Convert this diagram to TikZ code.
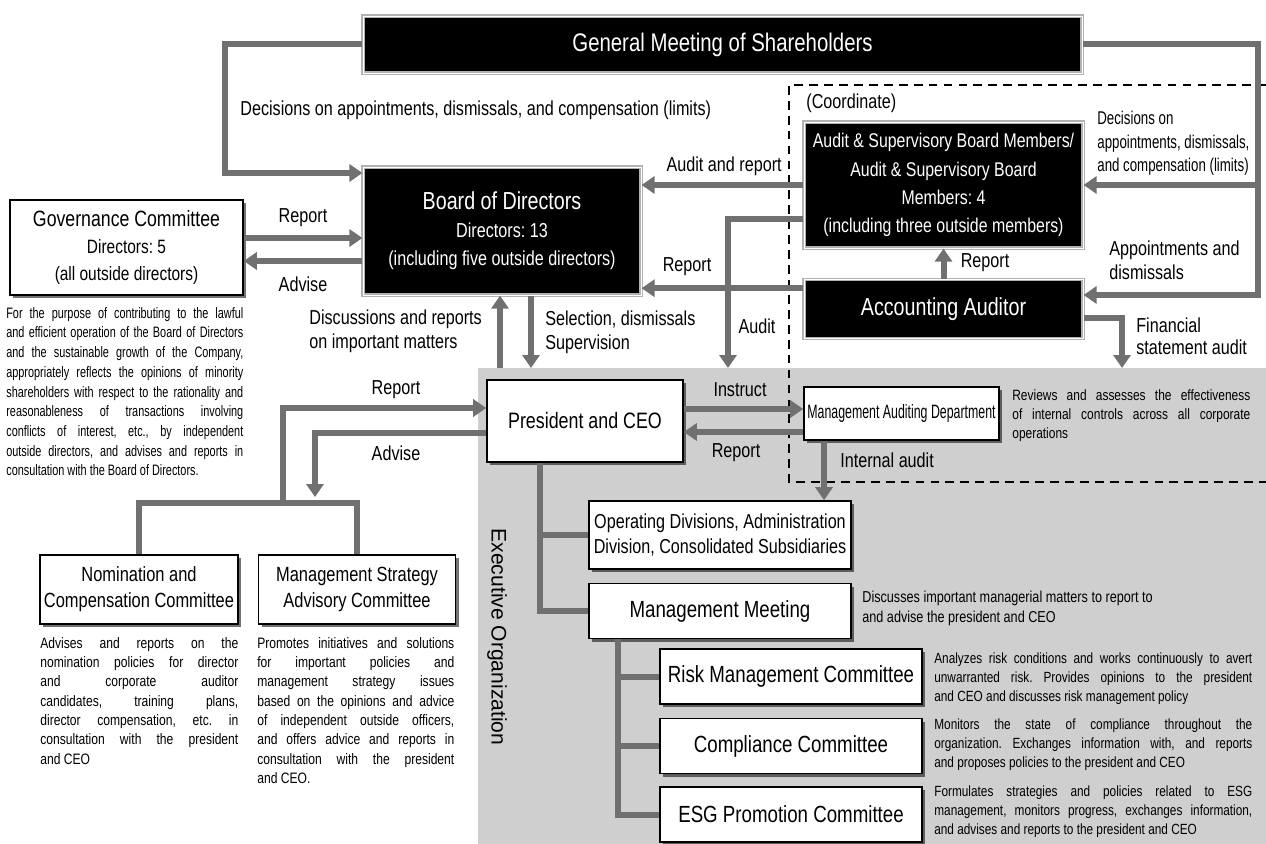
\documentclass[tikz,border=0pt]{standalone}
\usepackage{fontspec}
\setmainfont[FakeStretch=0.8]{Liberation Sans}
\newfontfamily\narrowfont[FakeStretch=0.64]{Liberation Sans}
\newfontfamily\condfont[FakeStretch=0.72]{Liberation Sans}
\newfontfamily\plainsans{Liberation Sans}
\frenchspacing
\usetikzlibrary{positioning, arrows.meta, shadows}
\definecolor{linkgray}{RGB}{112,112,112}
\definecolor{execgray}{RGB}{207,207,207}
\tikzset{
    x=0.02cm, y=-0.02cm, % one unit is one pixel of the reference, y runs downwards
    >={Triangle[length=0.26cm, width=0.34cm]}, % broad arrow heads
    link/.style={draw=linkgray, line width=0.12cm}, % thick grey connector
    flow/.style={link, ->}, % thick grey connector with a head
    darkbox/.style={fill=black, draw=gray!60, double=white, double distance=0.5pt, line width=0.7pt, text=white, align=center, inner sep=0pt}, % black organ boxes
    whitebox/.style={fill=white, draw=black, line width=0.9pt, align=center, inner sep=0pt, drop shadow={shadow xshift=0.06cm, shadow yshift=-0.06cm, fill=black, opacity=0.55}}, % white boxes with a shadow
    lbl/.style={font=\fontsize{11.5}{13.5}\selectfont, inner sep=0pt, align=left}, % connector labels
    note/.style={font=\fontsize{8.6}{11}\selectfont, inner sep=0pt, align=justify, anchor=north west}, % small explanations
}

\begin{document}
\begin{tikzpicture}[
                  ]
                  \useasboundingbox (0,0) rectangle (1266,844);
                  \fill[execgray] (478,368) rectangle (1266,844);
                  \draw[line width=0.8pt, dash pattern=on 5pt off 3.5pt] (1266,85) -- (789,85) -- (789,482) -- (1266,482);

                  % organs
                  \node[darkbox, minimum width=14.38cm, minimum height=1.14cm, font=\fontsize{14.5}{17}\selectfont] (gm) at (722.5,44.5) {General Meeting of Shareholders};
                  \node[darkbox, minimum width=5.56cm, minimum height=2.56cm, font=\fontsize{11.5}{16}\selectfont] (board) at (502,231) {{\fontsize{14}{16}\selectfont Board of Directors}\\Directors: 13\\(including five outside directors)};
                  \node[whitebox, minimum width=4.66cm, minimum height=1.9cm, font=\fontsize{11}{15.5}\selectfont] (gov) at (126.5,247.5) {{\fontsize{12.6}{15.5}\selectfont Governance Committee}\\Directors: 5\\(all outside directors)};
                  \node[darkbox, minimum width=5.58cm, minimum height=2.52cm, font=\fontsize{11.3}{16}\selectfont] (asb) at (943.5,185) {Audit \& Supervisory Board Members/\\Audit \& Supervisory Board\\Members: 4\\(including three outside members)};
                  \node[darkbox, minimum width=5.58cm, minimum height=1.18cm, font=\fontsize{14}{16}\selectfont, below=0.6cm of asb] (aa) {Accounting Auditor};

                  % executive side
                  \node[whitebox, minimum width=3.92cm, minimum height=1.64cm, font=\fontsize{12.7}{15}\selectfont] (pres) at (585,421) {President and CEO};
                  \node[whitebox, minimum width=3.9cm, minimum height=1.06cm, font=\narrowfont\fontsize{11}{13}\selectfont] (mad) at (901.5,413.5) {Management Auditing Department};
                  \node[whitebox, minimum width=5.24cm, minimum height=1.36cm, font=\fontsize{11.5}{14.7}\selectfont] (op) at (720,535) {Operating Divisions, Administration\\Division, Consolidated Subsidiaries};
                  \node[whitebox, minimum width=5.24cm, minimum height=1.1cm, font=\fontsize{13.3}{16}\selectfont, below=0.26cm of op] (mm) {Management Meeting};
                  \node[whitebox, minimum width=5.24cm, minimum height=1.1cm, font=\fontsize{13.3}{16}\selectfont] (risk) at (791,676.5) {Risk Management Committee};
                  \node[whitebox, minimum width=5.24cm, minimum height=1.1cm, font=\fontsize{13.3}{16}\selectfont, below=0.26cm of risk] (comp) {Compliance Committee};
                  \node[whitebox, minimum width=5.24cm, minimum height=1.1cm, font=\fontsize{13.3}{16}\selectfont, below=0.24cm of comp] (esg) {ESG Promotion Committee};
                  \node[font=\plainsans\fontsize{12}{13}\selectfont, rotate=-90, inner sep=0pt] (execlbl) at (497,637) {Executive Organization};

                  % advisory committees
                  \node[whitebox, minimum width=3.96cm, minimum height=1.38cm, font=\fontsize{11.7}{14.7}\selectfont] (nom) at (139,589.5) {Nomination and\\Compensation Committee};
                  \node[whitebox, minimum width=3.94cm, minimum height=1.38cm, font=\fontsize{11.7}{14.7}\selectfont, right=0.38cm of nom] (mstrat) {Management Strategy\\Advisory Committee};

                  % explanations
                  \node[note, text width=4.74cm, font=\condfont\fontsize{8.6}{11.2}\selectfont] (govnote) at (6,307) {For the purpose of contributing to the lawful\linebreak and efficient operation of the Board of Directors\linebreak and the sustainable growth of the Company,\linebreak appropriately reflects the opinions of minority\linebreak shareholders with respect to the rationality and\linebreak reasonableness of transactions involving\linebreak conflicts of interest, etc., by independent\linebreak outside directors, and advises and reports in\linebreak consultation with the Board of Directors.};
                  \node[note, text width=3.96cm] (nomnote) at (40,637) {Advises and reports on the\linebreak nomination policies for director\linebreak and corporate auditor\linebreak candidates, training plans,\linebreak director compensation, etc. in\linebreak consultation with the president\linebreak and CEO};
                  \node[note, text width=3.94cm] (msnote) at (257,637) {Promotes initiatives and solutions\linebreak for important policies and\linebreak management strategy issues\linebreak based on the opinions and advice\linebreak of independent outside officers,\linebreak and offers advice and reports in\linebreak consultation with the president\linebreak and CEO.};
                  \node[note, text width=4.76cm, font=\fontsize{8.5}{11}\selectfont] (madnote) at (1012,389) {Reviews and assesses the effectiveness\linebreak of internal controls across all corporate\linebreak operations};
                  \node[note, align=left, anchor=west, font=\fontsize{9}{11}\selectfont] (mmnote) at (862,608.5) {Discusses important managerial matters to report to\\and advise the president and CEO};
                  \node[note, text width=6.36cm, font=\fontsize{8.4}{11}\selectfont] (risknote) at (934,652) {Analyzes risk conditions and works continuously to avert\linebreak unwarranted risk. Provides opinions to the president\linebreak and CEO and discusses risk management policy};
                  \node[note, text width=6.36cm, font=\fontsize{8.4}{11}\selectfont] (compnote) at (934,718) {Monitors the state of compliance throughout the\linebreak organization. Exchanges information with, and reports\linebreak and proposes policies to the president and CEO};
                  \node[note, text width=6.36cm, font=\fontsize{8.4}{11}\selectfont] (esgnote) at (934,785) {Formulates strategies and policies related to ESG\linebreak management, monitors progress, exchanges information,\linebreak and advises and reports to the president and CEO};

                  % connector labels
                  \node[lbl, anchor=west] (lbldecl) at (240,110) {Decisions on appointments, dismissals, and compensation (limits)};
                  \node[lbl, anchor=east] (lblaudrep) at (782,166) {Audit and report};
                  \node[lbl] (lblgovrep) at (303,218) {Report};
                  \node[lbl] (lblgovadv) at (303,284) {Advise};
                  \node[lbl] (lblaarep) at (687,267) {Report};
                  \node[lbl] (lblaudit) at (757,326) {Audit};
                  \node[lbl] (lblaaup) at (985,263) {Report};
                  \node[lbl, anchor=west] (lblcoord) at (806,103) {(Coordinate)};
                  \node[lbl, anchor=west, font=\condfont\fontsize{10.5}{13.3}\selectfont] (lbldecr) at (1097,143.5) {Decisions on\\appointments, dismissals,\\and compensation (limits)};
                  \node[lbl, anchor=west] (lblappt) at (1109,260) {Appointments and\\dismissals};
                  \node[lbl, anchor=west, font=\fontsize{11.5}{12.5}\selectfont] (lblfin) at (1136,336) {Financial\\statement audit};
                  \node[lbl, anchor=west] (lbldisc) at (309,331.5) {Discussions and reports\\on important matters};
                  \node[lbl, anchor=west] (lblsel) at (545,332) {Selection, dismissals\\Supervision};
                  \node[lbl] (lblprsrep) at (396,390) {Report};
                  \node[lbl] (lblprsadv) at (396,453) {Advise};
                  \node[lbl] (lblinstr) at (740,390) {Instruct};
                  \node[lbl] (lblmadrep) at (736,453) {Report};
                  \node[lbl, anchor=west] (lblia) at (840,460) {Internal audit};

                  % shareholders
                  \coordinate (gmleft) at (225,173);
                  \coordinate (gmright) at (1258,295);
                  \draw[flow] (gm.west) -| (gmleft) -- (board.west |- gmleft);
                  \draw[flow] (gm.east) -| (gmright) -- (aa.east |- gmright);
                  \draw[flow] (gmright |- asb.east) -- (asb.east);

                  % auditors
                  \coordinate (fintip) at (1122,368);
                  \coordinate (audtip) at (728,368);
                  \coordinate (aaout) at ([yshift=0.41cm]aa.west);
                  \draw[flow] ([yshift=-0.19cm]aa.east) -| (fintip);
                  \draw[flow] (asb.west) -- (board.east |- asb.west);
                  \draw[flow] ([yshift=-0.68cm]asb.west) -| (audtip);
                  \draw[flow] (aaout) -- (board.east |- aaout);
                  \draw[flow] (aa.north) -- (asb.south);

                  % governance committee
                  \coordinate (govout) at ([yshift=0.19cm]gov.east);
                  \coordinate (boardout) at ([yshift=-0.6cm]board.west);
                  \draw[flow] (govout) -- (board.west |- govout);
                  \draw[flow] (boardout) -- (gov.east |- boardout);

                  % board and president
                  \coordinate (disc) at (500,368);
                  \coordinate (seltip) at (531,368);
                  \draw[flow] (disc) -- (board.south -| disc);
                  \draw[flow] (board.south -| seltip) -- (seltip);

                  % internal audit
                  \coordinate (instr) at ([yshift=0.24cm]pres.east);
                  \coordinate (madout) at ([yshift=-0.37cm]mad.west);
                  \coordinate (iaudit) at ([xshift=-1.55cm]mad.south);
                  \draw[flow] (instr) -- (mad.west |- instr);
                  \draw[flow] (madout) -- (pres.east |- madout);
                  \draw[flow] (iaudit) -- (op.north -| iaudit);

                  % advisory committees
                  \coordinate (advbar) at (283,503);
                  \coordinate (advtip) at (315,497);
                  \draw[link] (nom.north) |- (advbar) -| (mstrat.north);
                  \draw[flow] (advbar) |- ([yshift=0.26cm]pres.west);
                  \draw[flow] ([yshift=-0.24cm]pres.west) -| (advtip);

                  % executive tree
                  \coordinate (prstrunk) at ([xshift=-0.9cm]pres.south);
                  \coordinate (mmtrunk) at ([xshift=-2.04cm]mm.south);
                  \draw[link] (prstrunk) |- (op.west);
                  \draw[link] (prstrunk) |- (mm.west);
                  \draw[link] (mmtrunk) |- (risk.west);
                  \draw[link] (mmtrunk) |- (comp.west);
                  \draw[link] (mmtrunk) |- (esg.west);
              \end{tikzpicture}
\end{document}
